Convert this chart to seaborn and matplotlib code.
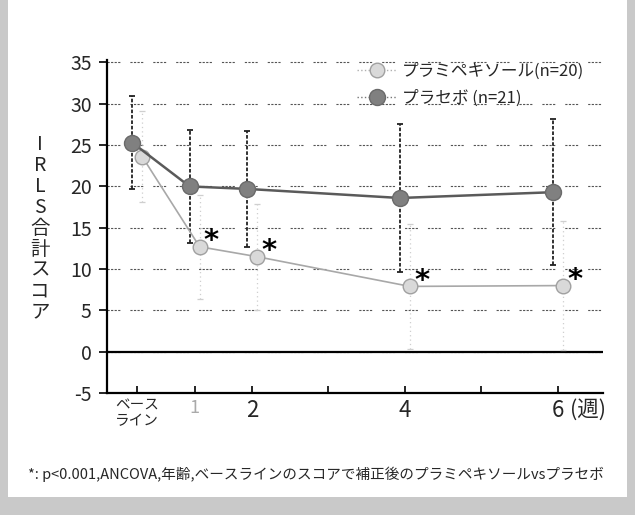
# IRLS合計スコアの推移（プラミペキソール vs プラセボ）

import numpy as np
import pandas as pd
import matplotlib
matplotlib.use('Agg')
import matplotlib.pyplot as plt
import seaborn as sns
from matplotlib.lines import Line2D
from matplotlib.patches import Rectangle
from matplotlib.transforms import ScaledTranslation

# データ
weeks = [0, 1, 2, 4, 6]
prami_mean = [23.6, 12.7, 11.5, 7.9, 8.0]
prami_sd = [5.5, 6.3, 6.4, 7.6, 7.8]
placebo_mean = [25.3, 20.0, 19.7, 18.6, 19.3]
placebo_sd = [5.6, 6.8, 7.0, 9.0, 8.8]
significant = [False, True, True, True, True]

groups = ['プラミペキソール(n=20)', 'プラセボ (n=21)']
tick_weeks = [0, 1, 2, 3, 4, 5, 6]
tick_labels = ['ベース\nライン', '1', '2', '', '4', '', '6']
y_ticks = [-5, 0, 5, 10, 15, 20, 25, 30, 35]
footnote = '*: p<0.001,ANCOVA,年齢,ベースラインのスコアで補正後のプラミペキソールvsプラセボ'

sns.set_theme(style='ticks')
plt.rcParams['font.family'] = ['Noto Sans CJK JP', 'DejaVu Sans']
plt.rcParams['axes.unicode_minus'] = False

df = pd.DataFrame({
    'week': weeks * 2,
    'score': prami_mean + placebo_mean,
    'group': [groups[0]] * len(weeks) + [groups[1]] * len(weeks),
})

fig = plt.figure(figsize=(6.35, 5.15), dpi=100)
fig.patch.set_facecolor('white')
ax = fig.add_axes([0.1685, 0.2369, 0.7811, 0.6466])

sns.lineplot(data=df, x='week', y='score', hue='group', hue_order=groups,
             palette=['#a8a8a8', '#5a5a5a'], marker='o', legend=False,
             errorbar=None, ax=ax, zorder=3)

# 横軸: ベースライン〜2週を詰めて表示
def fwd(w):
    return np.interp(w, [-2, 0, 2, 10], [-1, 0.5, 2, 10])

def inv(p):
    return np.interp(p, [-1, 0.5, 2, 10], [-2, 0, 2, 10])

ax.set_xscale('function', functions=(fwd, inv))

# 2群を左右に少しずらす
off_p = ScaledTranslation(3.6 / 72, 0, fig.dpi_scale_trans)
off_c = ScaledTranslation(-3.6 / 72, 0, fig.dpi_scale_trans)

pram_line, plac_line = ax.lines[0], ax.lines[1]
pram_line.set(color='#a8a8a8', linewidth=1.2, markersize=10.5,
              markerfacecolor='#d9d9d9', markeredgecolor='#a0a0a0', markeredgewidth=1)
plac_line.set(color='#5a5a5a', linewidth=1.8, markersize=11.5,
              markerfacecolor='#808080', markeredgecolor='#6a6a6a', markeredgewidth=1)
pram_line.set_transform(ax.transData + off_p)
plac_line.set_transform(ax.transData + off_c)

# エラーバー（SD）
for mean, sd, off, col, ls, lw in [
        (prami_mean, prami_sd, off_p, '#cfcfcf', (0, (1, 2.5)), 0.9),
        (placebo_mean, placebo_sd, off_c, '#222222', (0, (2, 1)), 1.3)]:
    eb = ax.errorbar(weeks, mean, yerr=sd, fmt='none', ecolor=col,
                     elinewidth=lw, capsize=2.5, capthick=lw, zorder=2)
    for cap in eb[1]:
        cap.set_transform(ax.transData + off)
    for bl in eb[2]:
        bl.set_transform(ax.transData + off)
        bl.set_linestyle(ls)

# 有意差の印
for w, m, s in zip(weeks, prami_mean, significant):
    if s:
        ax.annotate('*', xy=(w, m), xytext=(12, 4), textcoords='offset points',
                    ha='center', va='center', fontsize=21, fontweight='bold',
                    family='DejaVu Sans', color='black', zorder=5)

ax.axhline(0, color='black', linewidth=1.6, zorder=1.5)
ax.grid(axis='y', color='#555555', linewidth=0.8,
        linestyle=(0, (2, 1.2, 2, 1.2, 2, 1.2, 2, 9)))

ax.set_xlim(-0.527, 6.59)
ax.set_ylim(-5, 35.3)
ax.set_yticks(y_ticks)
ax.set_xticks(tick_weeks)
ax.set_xticklabels(tick_labels)
ax.set_xlabel('')
ax.set_ylabel('')

for side in ['top', 'right']:
    ax.spines[side].set_visible(False)
for side in ['left', 'bottom']:
    ax.spines[side].set_color('black')
    ax.spines[side].set_linewidth(1.6)

ax.tick_params(axis='y', direction='out', length=6, width=1.2, color='black',
               labelsize=14, pad=5)
ax.tick_params(axis='x', direction='in', length=5, width=1.2, color='black',
               labelsize=16, pad=4)
xl = ax.get_xticklabels()
xl[0].set_fontsize(10.5)
xl[0].set_linespacing(1.1)
xl[1].set_color('#aaaaaa')
xl[1].set_fontsize(13)

ax.annotate('(週)', xy=(6, 0), xycoords=ax.get_xaxis_transform(),
            xytext=(9, -4), textcoords='offset points', ha='left', va='top',
            fontsize=15.5)

# 凡例
handles = [
    Line2D([], [], color='#b0b0b0', linestyle=':', linewidth=1, marker='o',
           markersize=10.5, markerfacecolor='#d9d9d9', markeredgecolor='#a0a0a0'),
    Line2D([], [], color='#777777', linestyle=':', linewidth=1, marker='o',
           markersize=11.5, markerfacecolor='#808080', markeredgecolor='#6a6a6a'),
]
ax.legend(handles=handles, labels=groups, loc='upper left',
          bbox_to_anchor=(0.494, 1.006), borderaxespad=0, borderpad=0.3,
          frameon=False, fontsize=12, handlelength=2.4, handletextpad=0.3,
          labelspacing=0.55)

fig.text(0.063, 0.557, '\n'.join('IRLS合計スコア'), ha='center', va='center',
         fontsize=14, linespacing=1.0)
fig.text(0.044, 0.0796, footnote, ha='left', va='center', fontsize=10.5)

# スキャン原稿の縁
for rect in [(0, 0, 8 / 635, 1), (627 / 635, 0, 8 / 635, 1), (0, 0, 1, 18 / 515)]:
    fig.patches.append(Rectangle(rect[:2], rect[2], rect[3], transform=fig.transFigure,
                                 facecolor='#c9c9c9', edgecolor='none', zorder=0))

fig.savefig('out.png', dpi=100, facecolor='white')
